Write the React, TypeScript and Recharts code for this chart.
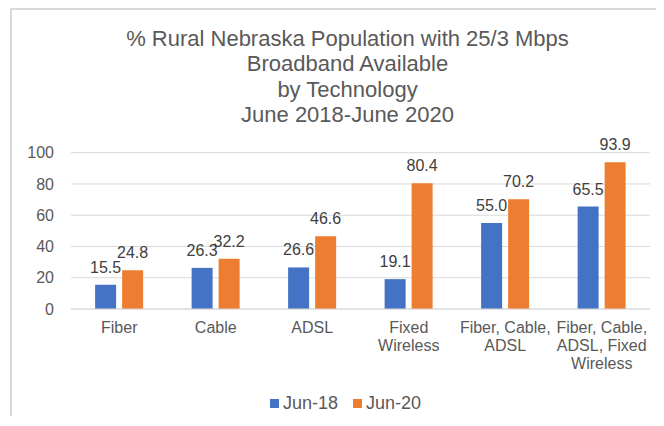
import React from 'react';
import { BarChart, Bar, XAxis, YAxis, CartesianGrid, LabelList } from 'recharts';

const categories = [
  'Fiber',
  'Cable',
  'ADSL',
  'Fixed Wireless',
  'Fiber, Cable, ADSL',
  'Fiber, Cable, ADSL, Fixed Wireless',
];
// how each category label breaks onto lines, as in the original
const categoryLines = [
  ['Fiber'],
  ['Cable'],
  ['ADSL'],
  ['Fixed', 'Wireless'],
  ['Fiber, Cable,', 'ADSL'],
  ['Fiber, Cable,', 'ADSL, Fixed', 'Wireless'],
];
const jun18 = [15.5, 26.3, 26.6, 19.1, 55.0, 65.5];
const jun20 = [24.8, 32.2, 46.6, 80.4, 70.2, 93.9];
const yTicks = [0, 20, 40, 60, 80, 100];
const titleLines = [
  '% Rural Nebraska Population with 25/3 Mbps',
  'Broadband Available',
  'by Technology',
  'June 2018-June 2020',
];

const series = [
  { key: 'jun18', name: 'Jun-18', color: '#4472C4' },
  { key: 'jun20', name: 'Jun-20', color: '#ED7D31' },
];

const data = categories.map((c, i) => ({
  category: c,
  jun18: jun18[i],
  jun20: jun20[i],
}));

const FONT = '"Liberation Sans", Arial, sans-serif';
const AXIS_COLOR = '#595959';

function CategoryTick({ x, y, payload }: any) {
  const idx = categories.indexOf(payload.value);
  const lines = categoryLines[idx] ?? [payload.value];
  return (
    <text
      x={x}
      y={y + 24}
      textAnchor="middle"
      fill={AXIS_COLOR}
      fontSize={16}
      fontFamily={FONT}
    >
      {lines.map((line, i) => (
        <tspan key={i} x={x} dy={i === 0 ? 0 : 18}>
          {line}
        </tspan>
      ))}
    </text>
  );
}

export default function App() {
  return (
    <div
      style={{
        position: 'relative',
        marginLeft: 2,
        width: 650,
        height: 406,
        borderTop: '2px solid #D9D9D9',
        borderLeft: '2px solid #D9D9D9',
        fontFamily: FONT,
      }}
    >
      <div
        style={{
          position: 'absolute',
          left: 35.5,
          top: 15.5,
          width: 600,
          textAlign: 'center',
          fontSize: 22,
          lineHeight: '25.5px',
          color: AXIS_COLOR,
        }}
      >
        {titleLines.map((t) => (
          <div key={t}>{t}</div>
        ))}
      </div>

      <BarChart
        width={650}
        height={406}
        data={data}
        margin={{ top: 142.7, right: 12, left: 0, bottom: 0 }}
        barCategoryGap="25%"
        barGap={6}
      >
        <CartesianGrid vertical={false} stroke="#D9D9D9" />
        <XAxis
          dataKey="category"
          height={107}
          axisLine={{ stroke: '#D9D9D9' }}
          tickLine={false}
          tickSize={0}
          tickMargin={0}
          interval={0}
          tick={<CategoryTick />}
        />
        <YAxis
          width={59}
          domain={[0, 100]}
          ticks={yTicks}
          axisLine={false}
          tickLine={false}
          tickSize={0}
          tickMargin={17}
          tick={{ fill: AXIS_COLOR, fontSize: 16, fontFamily: FONT }}
        />
        {series.map((s) => (
          <Bar
            key={s.key}
            dataKey={s.key}
            name={s.name}
            fill={s.color}
            isAnimationActive={false}
          >
            <LabelList
              dataKey={s.key}
              position="top"
              offset={12}
              fill="#404040"
              fontSize={16}
              fontFamily={FONT}
              formatter={(v: any) => Number(v).toFixed(1)}
            />
          </Bar>
        ))}
      </BarChart>

      <div
        style={{
          position: 'absolute',
          left: 258,
          top: 383,
          height: 20,
          display: 'flex',
          alignItems: 'center',
          fontSize: 18,
          color: AXIS_COLOR,
        }}
      >
        {series.map((s, i) => (
          <div
            key={s.key}
            style={{
              display: 'flex',
              alignItems: 'center',
              marginRight: i === series.length - 1 ? 0 : 15,
            }}
          >
            <span
              style={{
                display: 'inline-block',
                width: 9,
                height: 9,
                background: s.color,
                marginRight: 4,
              }}
            />
            <span>{s.name}</span>
          </div>
        ))}
      </div>
    </div>
  );
}
